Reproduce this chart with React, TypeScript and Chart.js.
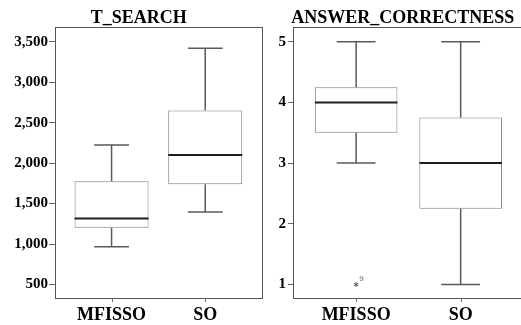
import React, { useEffect, useRef } from 'react';
import { Chart, registerables } from 'chart.js';

Chart.register(...registerables);

const categories = ['MFISSO', 'SO'];

const tSearchMin = [965, 1395];
const tSearchQ1 = [1200, 1740];
const tSearchMedian = [1315, 2100];
const tSearchQ3 = [1775, 2650];
const tSearchMax = [2225, 3420];
const tSearchTicks = [500, 1000, 1500, 2000, 2500, 3000, 3500];

const correctMin = [3, 1];
const correctQ1 = [3.5, 2.25];
const correctMedian = [4, 3];
const correctQ3 = [4.25, 3.75];
const correctMax = [5, 5];
const correctTicks = [1, 2, 3, 4, 5];
const correctOutlierCategory = [0];
const correctOutlierValue = [1];
const correctOutlierLabel = ['9'];

type Stats = {
  min: number[];
  q1: number[];
  median: number[];
  q3: number[];
  max: number[];
  outCat: number[];
  outVal: number[];
  outLabel: string[];
};

const SERIF = '"Liberation Serif", "Times New Roman", serif';

function boxPlugin(stats: Stats, title: string, titleX: number) {
  return {
    id: 'boxWhiskers',
    afterDatasetsDraw(chart: any) {
      const { ctx } = chart;
      const xs = chart.scales.x;
      const ys = chart.scales.y;
      const meta = chart.getDatasetMeta(0);
      ctx.save();
      categories.forEach((_, i) => {
        const bar = meta.data[i];
        const w = bar ? bar.width : 60;
        const cx = xs.getPixelForValue(i);
        const capW = w * 0.47;
        const pMin = ys.getPixelForValue(stats.min[i]);
        const pQ1 = ys.getPixelForValue(stats.q1[i]);
        const pMed = ys.getPixelForValue(stats.median[i]);
        const pQ3 = ys.getPixelForValue(stats.q3[i]);
        const pMax = ys.getPixelForValue(stats.max[i]);
        ctx.strokeStyle = '#5a5a5a';
        ctx.lineWidth = 1.5;
        ctx.beginPath();
        ctx.moveTo(cx, pQ3);
        ctx.lineTo(cx, pMax);
        ctx.moveTo(cx - capW / 2, pMax);
        ctx.lineTo(cx + capW / 2, pMax);
        ctx.moveTo(cx, pQ1);
        ctx.lineTo(cx, pMin);
        ctx.moveTo(cx - capW / 2, pMin);
        ctx.lineTo(cx + capW / 2, pMin);
        ctx.stroke();
        ctx.strokeStyle = '#1e1e1e';
        ctx.lineWidth = 2;
        ctx.beginPath();
        ctx.moveTo(cx - w / 2, pMed);
        ctx.lineTo(cx + w / 2, pMed);
        ctx.stroke();
      });
      stats.outCat.forEach((c, k) => {
        const px = xs.getPixelForValue(c);
        const py = ys.getPixelForValue(stats.outVal[k]);
        ctx.strokeStyle = '#555';
        ctx.lineWidth = 1;
        ctx.beginPath();
        for (let a = 0; a < 3; a++) {
          const ang = (Math.PI / 3) * a + Math.PI / 2;
          ctx.moveTo(px - Math.cos(ang) * 2.5, py - Math.sin(ang) * 2.5);
          ctx.lineTo(px + Math.cos(ang) * 2.5, py + Math.sin(ang) * 2.5);
        }
        ctx.stroke();
        ctx.fillStyle = '#666';
        ctx.font = '8px "Liberation Sans"';
        ctx.textAlign = 'left';
        ctx.textBaseline = 'middle';
        ctx.fillText(stats.outLabel[k], px + 3, py - 6);
      });
      ctx.restore();
    },
    afterDraw(chart: any) {
      const { ctx, chartArea: a } = chart;
      const xs = chart.scales.x;
      ctx.save();
      ctx.strokeStyle = '#555';
      ctx.lineWidth = 1;
      ctx.strokeRect(Math.round(a.left) + 0.5, Math.round(a.top) + 0.5, Math.round(a.right - a.left), Math.round(a.bottom - a.top));
      ctx.strokeStyle = '#666';
      ctx.beginPath();
      categories.forEach((_, i) => {
        const px = Math.round(xs.getPixelForValue(i)) + 0.5;
        ctx.moveTo(px, Math.round(a.bottom));
        ctx.lineTo(px, Math.round(a.bottom) + 4);
      });
      ctx.stroke();
      ctx.fillStyle = '#000';
      ctx.font = 'bold 18px ' + SERIF;
      ctx.textAlign = 'center';
      ctx.textBaseline = 'alphabetic';
      ctx.fillText(title, titleX, 23);
      ctx.restore();
    },
  };
}

type PanelProps = {
  title: string;
  titleX: number;
  stats: Stats;
  ticks: number[];
  yMin: number;
  yMax: number;
  yAxisWidth: number;
  yTickLength: number;
  yPadding: number;
  padRight: number;
  left: number;
  width: number;
  z: number;
};

function Panel(p: PanelProps) {
  const ref = useRef<HTMLCanvasElement | null>(null);
  useEffect(() => {
    document.body.style.margin = '0';
    if (!ref.current) return;
    Chart.defaults.font.family = SERIF;
    const chart = new Chart(ref.current, {
      type: 'bar',
      data: {
        datasets: [
          {
            data: categories.map((_, i) => ({ x: i, y: [p.stats.q1[i], p.stats.q3[i]] })) as any,
            backgroundColor: '#ffffff',
            borderColor: '#7d7d7d',
            borderWidth: 1,
            borderSkipped: false,
            barPercentage: 0.79,
            categoryPercentage: 1,
          },
        ],
      },
      options: {
        responsive: false,
        animation: false,
        events: [],
        layout: { padding: { left: 0, right: p.padRight, top: 27, bottom: 0 } },
        plugins: {
          legend: { display: false },
          tooltip: { enabled: false },
          title: { display: false },
        },
        scales: {
          x: {
            type: 'linear',
            min: -0.604,
            max: 1.606,
            offset: false,
            border: { display: false },
            grid: { display: false, drawTicks: false },
            afterBuildTicks: (s: any) => {
              s.ticks = categories.map((_, i) => ({ value: i }));
            },
            afterFit: (s: any) => {
              s.height = 27;
            },
            ticks: {
              padding: 7,
              color: '#000',
              font: { size: 18, weight: 'bold' },
              maxRotation: 0,
              autoSkip: false,
              callback: (v: any) => categories[Number(v)] ?? '',
            },
          },
          y: {
            type: 'linear',
            min: p.yMin,
            max: p.yMax,
            border: { display: false },
            grid: { display: true, drawOnChartArea: false, drawTicks: true, tickLength: p.yTickLength, color: '#666' },
            afterBuildTicks: (s: any) => {
              s.ticks = p.ticks.map((v) => ({ value: v }));
            },
            afterFit: (s: any) => {
              s.width = p.yAxisWidth;
            },
            ticks: {
              padding: p.yPadding,
              color: '#000',
              font: { size: 15, weight: 'bold' },
              autoSkip: false,
              callback: (v: any) => Number(v).toLocaleString('en-US'),
            },
          },
        },
      } as any,
      plugins: [boxPlugin(p.stats, p.title, p.titleX)],
    });
    return () => chart.destroy();
  }, []);
  return (
    <canvas
      ref={ref}
      width={p.width}
      height={325}
      style={{ position: 'absolute', left: p.left, top: 0, width: p.width, height: 325, zIndex: p.z }}
    />
  );
}

export default function App() {
  const tStats: Stats = {
    min: tSearchMin,
    q1: tSearchQ1,
    median: tSearchMedian,
    q3: tSearchQ3,
    max: tSearchMax,
    outCat: [],
    outVal: [],
    outLabel: [],
  };
  const cStats: Stats = {
    min: correctMin,
    q1: correctQ1,
    median: correctMedian,
    q3: correctQ3,
    max: correctMax,
    outCat: correctOutlierCategory,
    outVal: correctOutlierValue,
    outLabel: correctOutlierLabel,
  };
  return (
    <div style={{ position: 'relative', width: 521, height: 325, overflow: 'hidden', background: '#fff' }}>
      <Panel
        title="T_SEARCH"
        titleX={138.7}
        stats={tStats}
        ticks={tSearchTicks}
        yMin={333}
        yMax={3682}
        yAxisWidth={55}
        yTickLength={6}
        yPadding={1}
        padRight={15}
        left={0}
        width={277}
        z={1}
      />
      <Panel
        title="ANSWER_CORRECTNESS"
        titleX={136.8}
        stats={cStats}
        ticks={correctTicks}
        yMin={0.778}
        yMax={5.242}
        yAxisWidth={27}
        yTickLength={5}
        yPadding={2}
        padRight={16}
        left={266}
        width={274}
        z={2}
      />
    </div>
  );
}
